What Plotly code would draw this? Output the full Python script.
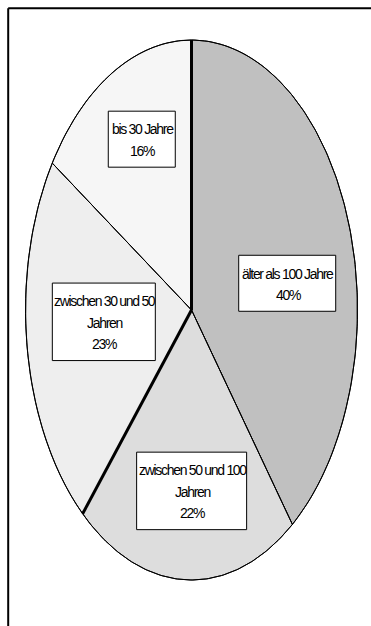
import numpy as np
import plotly.graph_objects as go

# Age structure of the building stock (share in %)
categories = ["älter als 100 Jahre", "zwischen 50 und 100 Jahren",
              "zwischen 30 und 50 Jahren", "bis 30 Jahre"]
label_lines = [["älter als 100 Jahre"],
               ["zwischen 50 und 100", "Jahren"],
               ["zwischen 30 und 50", "Jahren"],
               ["bis 30 Jahre"]]
shares = [40, 22, 23, 16]

# styling
fills = ["#C0C0C0", "#DDDDDD", "#EEEEEE", "#F6F6F6"]
thick_edges = [0, 2]          # slice start edges drawn with a heavy stroke
label_r = [0.585, 0.67, 0.53, 0.70]
label_turn = [-3, -1.5, 0, 5.5]   # small angular nudge of each label (degrees)
box_w = [97, 110, 103, 67]
line_gap = 21.5
font = dict(family="Liberation Sans, Arial", size=14, color="black")
tight = '<span style="letter-spacing:-1.3px">{}</span>'

W, H = 371, 626
cx, cy = 191.5, 310.0         # centre of the elliptical pie (pixel space)
ra, rb = 166.0, 270.0         # horizontal / vertical semi-axes


def pt(theta):
    """Point on the ellipse for a clockwise angle measured from 12 o'clock."""
    return cx + ra * np.sin(theta), cy - rb * np.cos(theta)


vals = np.array(shares, dtype=float)
bounds = np.concatenate([[0], np.cumsum(vals) / vals.sum()]) * 2 * np.pi

fig = go.Figure()

for i, name in enumerate(categories):
    t = np.linspace(bounds[i], bounds[i + 1], 120)
    ex, ey = pt(t)
    xs = np.concatenate([[cx], ex, [cx]])
    ys = np.concatenate([[cy], ey, [cy]])
    fig.add_trace(go.Scatter(
        x=xs, y=ys, mode="lines", fill="toself", fillcolor=fills[i],
        line=dict(color="black", width=1), name=name,
        hoverinfo="name", showlegend=False))

# radial edges (heavy where marked)
for i in range(len(shares)):
    ex, ey = pt(bounds[i])
    fig.add_trace(go.Scatter(
        x=[cx, ex], y=[cy, ey], mode="lines",
        line=dict(color="black", width=3 if i in thick_edges else 1),
        hoverinfo="skip", showlegend=False))

# outline
t = np.linspace(0, 2 * np.pi, 400)
ox, oy = pt(t)
fig.add_trace(go.Scatter(x=ox, y=oy, mode="lines",
                         line=dict(color="black", width=1),
                         hoverinfo="skip", showlegend=False))

# data labels: boxed, placed along the visual bisector of each slice
for i in range(len(shares)):
    x0, y0 = pt(bounds[i])
    x1, y1 = pt(bounds[i + 1])
    a0 = np.arctan2(x0 - cx, cy - y0) % (2 * np.pi)
    a1 = np.arctan2(x1 - cx, cy - y1) % (2 * np.pi)
    if a1 <= a0:
        a1 += 2 * np.pi
    am = (a0 + a1) / 2 + np.radians(label_turn[i])
    dx, dy = np.sin(am), np.cos(am)
    rr = 1 / np.sqrt((dx / ra) ** 2 + (dy / rb) ** 2)
    lx = cx + label_r[i] * rr * dx
    ly = cy - label_r[i] * rr * dy

    lines = label_lines[i] + [f"{shares[i]}%"]
    n = len(lines)
    bh = n * line_gap + 13
    fig.add_shape(type="rect", xref="x", yref="y",
                  x0=lx - box_w[i] / 2, x1=lx + box_w[i] / 2,
                  y0=ly - bh / 2, y1=ly + bh / 2,
                  line=dict(color="black", width=1), fillcolor="white")
    for k, txt in enumerate(lines):
        fig.add_annotation(
            x=lx + 1, y=ly + (k - (n - 1) / 2) * line_gap + 1,
            xref="x", yref="y", showarrow=False,
            text=tight.format(txt), font=font, align="center")

# chart area frame (top and left edges fall inside the page)
fig.add_shape(type="line", xref="x", yref="y", x0=8.2, y0=8.2, x1=W + 20, y1=8.2,
              line=dict(color="black", width=2))
fig.add_shape(type="line", xref="x", yref="y", x0=8.2, y0=8.2, x1=8.2, y1=H + 20,
              line=dict(color="black", width=2))

fig.update_layout(
    width=W, height=H, margin=dict(l=0, r=0, t=0, b=0),
    paper_bgcolor="white", plot_bgcolor="white",
    xaxis=dict(range=[0, W], visible=False, fixedrange=True),
    yaxis=dict(range=[H, 0], visible=False, fixedrange=True),
)

fig.write_html("out.html")
